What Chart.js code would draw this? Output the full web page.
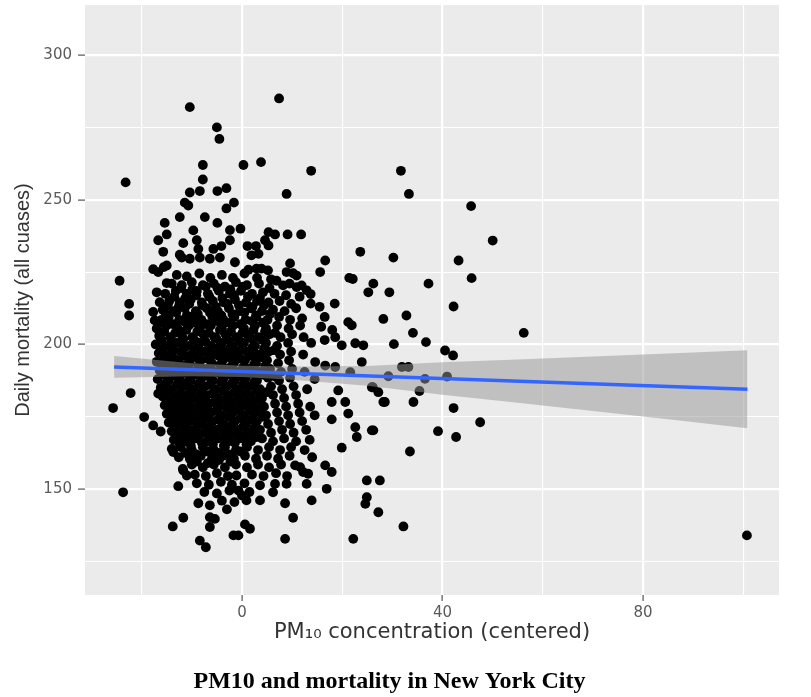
<!DOCTYPE html>
<html>
<head>
<meta charset="utf-8">
<title>PM10 and mortality in New York City</title>
<script src="https://cdn.jsdelivr.net/npm/chart.js@4.4.1/dist/chart.umd.min.js"></script>
<style>
  body { margin: 0; background: #fff; }
  #wrap { width: 811px; height: 697px; }
</style>
</head>
<body>
<div id="wrap"><canvas id="pm10_mortality" width="811" height="697"></canvas></div>
<script>
// axis ticks (minor ones get a grid line but no label)
var xTicks = [-20, 0, 20, 40, 60, 80, 100];
var xLabels = [0, 40, 80];
var yTicks = [125, 150, 175, 200, 225, 250, 275, 300];
var yLabels = [150, 200, 250, 300];

// linear fit and its confidence band
var fitX = [-25.5, 100.8];
var fitY = [192.2, 184.5];
var bandX = [-25.5, -10, 0, 10, 25, 40, 55, 70, 85, 100.8];
var bandHi = [196.0, 193.5, 192.6, 192.4, 192.5, 193.8, 194.8, 195.8, 196.9, 198.0];
var bandLo = [188.5, 189.0, 188.7, 187.8, 185.7, 182.6, 179.8, 177.0, 174.1, 171.0];

// daily observations: [PM10 centered, deaths]
var days = [
    // outer points
    [-10.4,282],[7.4,285],[-5,275],[-4.5,271],[-23.2,256],[-7.8,262],[-7.8,257],[0.3,262],[3.8,263],
    [13.8,260],[8.9,252],[31.7,260],[33.3,252],[-24.4,222],[-22.5,214],[-22.5,210],
    [-10.4,252.5],[-8.4,253],[-11.4,249],[-10.7,248],[-4.9,253],[-3.1,254],[-1.6,249],[-3.1,247],
    [-12.4,244],[-7.4,244],[-4.9,242],[-15.4,242],[-0.3,240],[-2.4,239.5],
    [-16.7,236],[-15,238],[-15.7,232],[-11.7,235],[-12.4,231],[-9.7,239.4],[-9,236],[-8.7,233],
    [-5.7,233],[-4.1,234],[-2.4,236],[1.1,234],[2.8,234],[4.6,236],[5.3,238.8],[6.6,238],[9.1,238],
    [11.8,238],[5.3,234.2],[1.9,230.8],[3.3,231.3],[23.6,232],[30.2,230],
    [-12,230],[-10.4,229.6],[-8.4,230],[-6.4,229.6],[-4.4,230],[-1.4,228.4],
    [9.6,228],[10.2,224.6],[10.9,223.8],[8.9,225],[16.6,229],[15.6,225],[21.4,223],[22.1,222.6],
    [26.2,221],[25.2,218],[29.4,218],[-17.7,226],[-16.7,225],[-15.6,226.7],[-15,227.3],[1.3,225.8],
    [2.9,226.2],[3.9,226.2],[5.2,225.6],[6.9,222],[8.2,220.4],[-15,221.2],[10.9,219.8],[11.9,220.4],
    [12.9,218.7],[13.7,217.4],
    [-17,218],[-16.4,214.6],[-17.7,211.2],[-17.4,208.3],[13.7,214.1],[18.5,214.1],[28.2,208.8],
    [32.8,210],[34.1,204],[30.3,200.1],[21.2,207.7],[21.9,206.6],[15.8,206.1],
    [18.6,202.5],[19.9,199.7],[22.6,200.4],[24.2,199.7],[23.9,193.9],[14.6,193.9],[16.6,192.7],
    [18.6,192.2],[19.2,184.1],[25.9,185.2],[27.2,183.5],[28.2,180.1],[17.9,180.1],[20.6,180.1],
    [21.2,176.1],[17.9,174.1],[22.6,171.4],[22.9,168],[25.9,170.3],[19.9,164.3],[16.6,158.2],
    [17.9,155.9],[16.9,150.1],[24.9,153],[27.5,153],[24.9,147.2],[24.6,144.9],[27.2,142],[22.2,132.8],
    [8.6,132.8],[10.2,140.1],[8.6,145.1],[13.9,146.1],[3.6,146.1],[0.6,137.8],[1.6,136.3],[-0.7,134],
    [-1.7,134],[3.6,151.3],[6.6,151.8],[8.9,151.8],[6.2,148.9],[12.9,151.8],[13.2,155.3],[11.6,157.6],
    [12.2,155.9],[10.6,158.2],[21.6,190.4],
    [36.7,200.8],[40.5,197.9],[42.1,196.2],[31.9,192.2],[33.2,192.2],[36.5,188.1],[40.9,188.9],
    [35.4,183.9],[34.2,180.1],[42.2,178],[47.5,173.1],[39.1,170],[42.7,168],[33.5,163],[32.2,137.1],
    [100.7,134],[45.7,247.8],[50,235.9],[43.2,229],[45.8,222.9],[37.2,221],[42.2,213.1],[56.2,204],
    [29.2,189],[26.1,185.2],[28.5,180.1],[26.2,170.3],
    [-25.7,178],[-22.2,183.2],[-19.5,174.9],[-17.7,172],[-16.2,169.9],[-23.7,148.9],[-16.7,183],
    [-14,163.9],[-13.7,162.8],[-12.7,151],[-11.7,156.4],[-11,154.7],[-11.8,157],[-11.7,140.1],
    [-13.8,137.1],[-8.4,132.2],[-7.2,129.9],[-8.7,145.1],[-6.4,144.4],[-6.4,140.3],[-5.4,139.7],
    [-6.4,136.9],[-1.1,154.7],[-0.7,149.5],[0,147.8],[0.9,146.1],
    // dense core
    [-13,224],[-11,223.5],[-8.5,224.5],[-6.3,223],[-4,224],[-1.8,223],[0.5,224.5],[3,223],[5.8,222.5],
    [-14,221],[-12,220.5],[-10,221.5],[-7.8,220.5],[-5.6,221],[-3.4,220],[-1.2,221.5],[1,220.5],
    [3.4,221],[5.5,219.5],[9.5,221],
    [-15.3,217.5],[-13.2,218.5],[-11,217.5],[-9,218.5],[-6.8,217.5],[-4.6,218.5],[-2.4,217.5],
    [-0.2,218.5],[2,217.5],[4.2,218],[6.5,217.5],[8.8,217],[11.5,216.5],
    [-14.5,215],[-12.4,214.5],[-10.2,215.5],[-8,214.5],[-5.8,215],[-3.6,214.5],[-1.4,215.5],
    [0.8,214.5],[3,215],[5.3,214.5],[7.5,215],[9.8,214],[15.5,213],
    [-15.8,212],[-13.6,211.5],[-11.4,212.5],[-9.2,211.5],[-7,212.5],[-4.8,211.5],[-2.6,212.5],
    [-0.4,211.5],[1.8,212.5],[4,211.5],[6.2,212],[8.5,211.5],[10.8,212.5],
    [-16,208.5],[-14.6,209.5],[-12.5,208.5],[-10.3,209.5],[-8.1,208.5],[-5.9,209.5],[-3.7,208.5],
    [-1.5,209.5],[0.7,208.5],[2.9,209.5],[5.1,208.5],[7.4,209.5],[9.6,208.5],[12,209],[16.5,209.5],
    [-17,205.5],[-15,206.5],[-12.8,205.5],[-10.6,206.5],[-8.4,205.5],[-6.2,206.5],[-4,205.5],
    [-1.8,206.5],[0.4,205.5],[2.6,206.5],[4.8,205.5],[7,206.5],[9.3,205.5],[11.6,206.5],[18,205],
    [-16.5,203],[-14.3,202.5],[-12.1,203.5],[-9.9,202.5],[-7.7,203.5],[-5.5,202.5],[-3.3,203.5],
    [-1.1,202.5],[1.1,203.5],[3.3,202.5],[5.5,203.5],[7.7,202.5],[10,203.5],[12.3,202.5],[16.5,201.5],
    [-17.2,200],[-15,199.5],[-12.8,200.5],[-10.6,199.5],[-8.4,200.5],[-6.2,199.5],[-4,200.5],
    [-1.8,199.5],[0.4,200.5],[2.6,199.5],[4.8,200.5],[7,199.5],[9.2,200.5],[13.8,200.5],
    [-16.6,197],[-14.4,196.5],[-12.2,197.5],[-10,196.5],[-7.8,197.5],[-5.6,196.5],[-3.4,197.5],
    [-1.2,196.5],[1,197.5],[3.2,196.5],[5.4,197.5],[7.6,196.5],[9.8,197.5],[12.2,196.5],
    [-17,194],[-14.8,193.5],[-12.6,194.5],[-10.4,193.5],[-8.2,194.5],[-6,193.5],[-3.8,194.5],
    [-1.6,193.5],[0.6,194.5],[2.8,193.5],[5,194.5],[7.2,193.5],[9.4,194.5],
    [-16.4,191],[-14.2,190.5],[-12,191.5],[-9.8,190.5],[-7.6,191.5],[-5.4,190.5],[-3.2,191.5],
    [-1,190.5],[1.2,191.5],[3.4,190.5],[5.6,191.5],[7.8,190.5],[10,191.5],[12.5,190.5],
    [-16.8,188],[-14.6,187.5],[-12.4,188.5],[-10.2,187.5],[-8,188.5],[-5.8,187.5],[-3.6,188.5],
    [-1.4,187.5],[0.8,188.5],[3,187.5],[5.2,188.5],[7.4,187.5],[9.6,188.5],[14.5,188],
    [-16.2,185],[-14,184.5],[-11.8,185.5],[-9.6,184.5],[-7.4,185.5],[-5.2,184.5],[-3,185.5],
    [-0.8,184.5],[1.4,185.5],[3.6,184.5],[5.8,185.5],[8,184.5],[10.3,185.5],[13,184.5],
    [-15.8,182],[-13.6,181.5],[-11.4,182.5],[-9.2,181.5],[-7,182.5],[-4.8,181.5],[-2.6,182.5],
    [-0.4,181.5],[1.8,182.5],[4,181.5],[6.2,182.5],[8.4,181.5],[10.8,182.5],
    [-15.4,179],[-13.2,178.5],[-11,179.5],[-8.8,178.5],[-6.6,179.5],[-4.4,178.5],[-2.2,179.5],
    [0,178.5],[2.2,179.5],[4.4,178.5],[6.6,179.5],[8.8,178.5],[11.2,179.5],[13.6,178.5],
    [-15,176],[-12.8,175.5],[-10.6,176.5],[-8.4,175.5],[-6.2,176.5],[-4,175.5],[-1.8,176.5],
    [0.4,175.5],[2.6,176.5],[4.8,175.5],[7,176.5],[9.2,175.5],[11.5,176.5],[14.5,175.5],
    [-14.6,173],[-12.4,172.5],[-10.2,173.5],[-8,172.5],[-5.8,173.5],[-3.6,172.5],[-1.4,173.5],
    [0.8,172.5],[3,173.5],[5.2,172.5],[7.4,173.5],[9.6,172.5],[12,173.5],
    [-14,170],[-11.8,169.5],[-9.6,170.5],[-7.4,169.5],[-5.2,170.5],[-3,169.5],[-0.8,170.5],
    [1.4,169.5],[3.6,170.5],[5.8,169.5],[8,170.5],[10.3,169.5],[12.8,170.5],
    [-13.6,167],[-11.4,166.5],[-9.2,167.5],[-7,166.5],[-4.8,167.5],[-2.6,166.5],[-0.4,167.5],
    [1.8,166.5],[4,167.5],[6.2,166.5],[8.4,167.5],[10.8,166.5],[13.5,167],
    [-12.2,164.5],[-10,163.5],[-7.8,164.5],[-5.6,163.5],[-3.4,164.5],[-1.2,163.5],[1,164.5],
    [3.2,163.5],[5.4,164.5],[7.6,163.5],[9.8,164.5],[12.5,163.5],
    [-12.6,161],[-10.4,160.5],[-8.2,161.5],[-6,160.5],[-3.8,161.5],[-1.6,160.5],[0.6,161.5],
    [2.8,160.5],[5,161.5],[7.2,160.5],[9.5,161.5],[14,161],
    [-10,158.5],[-7.8,157.5],[-5.6,158.5],[-3.4,157.5],[-1.2,158.5],[1,157.5],[3.2,158.5],
    [5.4,157.5],[7.8,158.5],
    [-9.4,155],[-7.2,154.5],[-5,155.5],[-2.8,154.5],[2,155],[4.3,154.5],[6.8,155.5],[9,154.5],
    [-9,152],[-6.6,151.5],[-4.2,152.5],[-2,151.5],[0.5,152],
    [-7.5,149],[-5,148.5],[-2.5,149.5],[1.5,149],[-4,146],[-1.5,145.5],[-3,143],
    // darkest part of the core
    [-12.1,219.5],[-9.9,219],[-7.2,220],[-4.9,219.5],[-2.3,219],[0.2,220],
    [-13.5,216.5],[-11.3,216],[-9.1,217],[-6.5,216.5],[-3.9,216],[-1.6,217],[1.2,216.5],[3.6,216],
    [-14.8,213.5],[-12.6,213],[-10.5,214],[-7.9,213.5],[-5.2,213],[-2.9,214],[-0.6,213.5],[2.1,213],[4.4,213.5],
    [-15.2,210.5],[-13.1,211],[-11,210],[-8.8,210.5],[-6.4,211],[-4.1,210],[-1.9,210.5],[0.5,211],[2.8,210],[5.6,210.5],
    [-15.8,207.5],[-13.7,207],[-11.6,208],[-9.4,207.5],[-7.1,207],[-4.8,208],[-2.6,207.5],[-0.3,207],[2,208],[4.2,207.5],
    [-15.5,204.5],[-13.3,204],[-11.1,205],[-8.9,204.5],[-6.6,204],[-4.4,205],[-2.2,204.5],[0.1,204],[2.3,205],[4.6,204.5],[6.6,204],
    [-16,201.5],[-13.9,201],[-11.7,202],[-9.5,201.5],[-7.3,201],[-5.1,202],[-2.7,201.5],[-0.4,201],[1.9,202],[4.1,201.5],
    [-15.8,198.5],[-13.6,198],[-11.4,199],[-9.1,198.5],[-6.9,198],[-4.7,199],[-2.5,198.5],[-0.3,198],[2.1,199],[4.4,198.5],[6.4,198],
    [-15.6,195.5],[-13.4,195],[-11.2,196],[-9,195.5],[-6.8,195],[-4.6,196],[-2.4,195.5],[-0.2,195],[2,196],[4.1,195.5],
    [-15.6,192.5],[-13.3,192],[-11,193],[-8.7,192.5],[-6.5,192],[-4.3,193],[-2.1,192.5],[0.2,192],[2.4,193],[4.6,192.5],
    [-15.4,189.5],[-13.2,189],[-11,190],[-8.9,189.5],[-6.7,189],[-4.5,190],[-2.3,189.5],[-0.1,189],[2.1,190],[4.3,189.5],[6.5,189],
    [-15.2,186.5],[-13,186],[-10.8,187],[-8.6,186.5],[-6.4,186],[-4.2,187],[-2,186.5],[0.2,186],[2.5,187],
    [-14.8,183.5],[-12.5,183],[-10.3,184],[-8.1,183.5],[-5.9,183],[-3.7,184],[-1.5,183.5],[0.7,183],[2.9,184],[5,183.5],
    [-14.3,180.5],[-12.2,180],[-10,181],[-7.8,180.5],[-5.6,180],[-3.4,181],[-1.2,180.5],[1,180],[3.3,181],
    [-14,177.5],[-11.8,177],[-9.6,178],[-7.4,177.5],[-5.2,177],[-3,178],[-0.8,177.5],[1.5,177],[3.7,178],
    [-13.6,174.5],[-11.4,174],[-9.2,175],[-7,174.5],[-4.8,174],[-2.6,175],[-0.3,174.5],[1.9,174],[4.1,175],
    [-13.2,171.5],[-11,171],[-8.7,172],[-6.5,171.5],[-4.3,171],[-2.1,172],[0.2,171.5],[2.4,171],
    [-12.7,168.5],[-10.5,168],[-8.3,169],[-6.1,168.5],[-3.9,168],[-1.7,169],[0.6,168.5],[2.9,168],
    [-12.4,165.5],[-10.2,165],[-8,166],[-5.8,165.5],[-3.6,165],[-1.4,166],[0.9,165.5],
    [-11.3,162.5],[-9.1,162],[-6.9,163],[-4.7,162.5],[-2.5,162],[-0.3,163],
    [-9,159.5],[-6.8,159],[-4.6,160],[-2.3,159.5]
];

var caption = "PM10 and mortality in New York City";

function isIn(list, v) {
    return list.indexOf(v) !== -1;
}

// grey ggplot-like panel behind the grid
var panelBg = {
    id: "panelBg",
    beforeDraw: function (chart) {
        var a = chart.chartArea;
        var ctx = chart.ctx;
        ctx.save();
        ctx.fillStyle = "#EBEBEB";
        ctx.fillRect(a.left, a.top, a.right - a.left, a.bottom - a.top);
        ctx.restore();
    },
};

// keep the tick labels from pushing the panel inwards
function noEdgePadding(s) {
    s.paddingTop = 0;
    s.paddingBottom = 0;
    s.paddingLeft = 0;
    s.paddingRight = 0;
}

var ctx = document.getElementById("pm10_mortality");
var pmChart = new Chart(ctx, {
    type: "scatter",
    data: {
        datasets: [
            {
                label: "fit",
                data: fitX.map(function (x, i) { return { x: x, y: fitY[i] }; }),
                showLine: true,
                borderColor: "#3366FF",
                borderWidth: 3.5,
                pointRadius: 0,
                fill: false,
                order: 1,
            },
            {
                label: "upper",
                data: bandX.map(function (x, i) { return { x: x, y: bandHi[i] }; }),
                showLine: true,
                borderWidth: 0,
                borderColor: "rgba(0,0,0,0)",
                backgroundColor: "rgba(150,150,150,0.5)",
                pointRadius: 0,
                fill: "+1",
                order: 2,
            },
            {
                label: "lower",
                data: bandX.map(function (x, i) { return { x: x, y: bandLo[i] }; }),
                showLine: true,
                borderWidth: 0,
                borderColor: "rgba(0,0,0,0)",
                pointRadius: 0,
                fill: false,
                order: 2,
            },
            {
                label: "days",
                data: days.map(function (d) { return { x: d[0], y: d[1] }; }),
                backgroundColor: "#000",
                borderWidth: 0,
                pointRadius: 4.9,
                order: 3,
            },
        ],
    },
    options: {
        responsive: false,
        animation: false,
        events: [],
        layout: { padding: { top: 5, right: 32, left: 0, bottom: 0 } },
        plugins: {
            legend: { display: false },
            tooltip: { enabled: false },
            title: {
                display: true,
                position: "bottom",
                text: caption,
                color: "#000",
                font: { family: "Liberation Serif", size: 24, weight: "bold" },
                padding: { top: 22.6, bottom: 0.6 },
            },
        },
        scales: {
            x: {
                type: "linear",
                min: -31.3,
                max: 107.1,
                afterBuildTicks: function (s) {
                    s.ticks = xTicks.map(function (v) { return { value: v }; });
                },
                afterFit: function (s) { s.height = 50; noEdgePadding(s); },
                border: { display: false },
                grid: {
                    color: "#FFFFFF",
                    lineWidth: function (c) { return isIn(xLabels, c.tick.value) ? 2.2 : 1.1; },
                    tickColor: function (c) { return isIn(xLabels, c.tick.value) ? "#555" : "rgba(0,0,0,0)"; },
                    tickLength: 6,
                    tickWidth: 1.2,
                },
                ticks: {
                    autoSkip: false,
                    maxRotation: 0,
                    padding: 3,
                    color: "#5a5a5a",
                    font: { family: "DejaVu Sans", size: 15 },
                    callback: function (v) { return isIn(xLabels, v) ? String(v) : ""; },
                },
                title: {
                    display: true,
                    text: "PM\u2081\u2080 concentration (centered)",
                    color: "#333",
                    font: { family: "DejaVu Sans", size: 21 },
                    padding: { top: 0, bottom: 0 },
                },
            },
            y: {
                type: "linear",
                min: 113.4,
                max: 317.3,
                afterBuildTicks: function (s) {
                    s.ticks = yTicks.map(function (v) { return { value: v }; });
                },
                afterFit: function (s) { s.width = 85; noEdgePadding(s); },
                border: { display: false },
                grid: {
                    color: "#FFFFFF",
                    lineWidth: function (c) { return isIn(yLabels, c.tick.value) ? 2.2 : 1.1; },
                    tickColor: function (c) { return isIn(yLabels, c.tick.value) ? "#555" : "rgba(0,0,0,0)"; },
                    tickLength: 7,
                    tickWidth: 1.2,
                },
                ticks: {
                    autoSkip: false,
                    padding: 6,
                    color: "#5a5a5a",
                    font: { family: "DejaVu Sans", size: 15 },
                    callback: function (v) { return isIn(yLabels, v) ? String(v) : ""; },
                },
                title: {
                    display: true,
                    text: "Daily mortality (all cuases)",
                    color: "#333",
                    font: { family: "Liberation Sans", size: 20 },
                    padding: { top: 11, bottom: 0 },
                },
            },
        },
    },
    plugins: [panelBg],
});
</script>
</body>
</html>
